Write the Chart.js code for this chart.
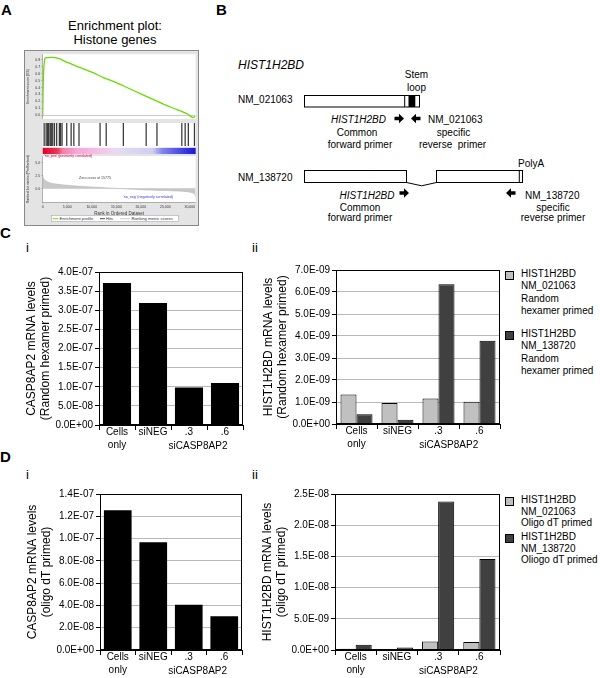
<!DOCTYPE html>
<html>
<head>
<meta charset="utf-8">
<script src="https://cdn.jsdelivr.net/npm/chart.js@4/dist/chart.umd.min.js"></script>
<style>
html, body { margin: 0; padding: 0; background: #fff; }
body { width: 600px; height: 678px; position: relative; overflow: hidden; font-family: "Liberation Sans", Arial, sans-serif; }
canvas, svg, .leg { position: absolute; }
.leg { font-size: 10px; line-height: 12.3px; color: #000; }
.leg .sq { position: absolute; left: -16px; top: 3px; width: 7px; height: 7px; border: 1px solid #000; }
</style>
</head>
<body>
<svg id="fig" width="600" height="678" style="left:0;top:0" font-family="'Liberation Sans', Arial, sans-serif">
  <g font-weight="bold" font-size="15">
    <text x="1" y="15">A</text>
    <text x="216" y="15">B</text>
    <text x="0" y="238">C</text>
    <text x="0" y="462">D</text>
  </g>
  <g font-size="13">
    <text x="26" y="252">i</text>
    <text x="252" y="252">ii</text>
    <text x="26" y="479">i</text>
    <text x="252" y="479">ii</text>
  </g>
  <!-- panel A frame -->
  <g font-size="13" text-anchor="middle">
    <text x="115" y="29.5">Enrichment plot:</text>
    <text x="115" y="43.5">Histone genes</text>
  </g>
  <rect x="24.5" y="50.5" width="174" height="175" fill="#e4e4e4" stroke="#888"/>
  <rect x="51.5" y="215.5" width="127" height="6" fill="#fff" stroke="#999" stroke-width="0.5"/>
  <g font-size="4.2" fill="#333">
    <line x1="52.7" y1="218.7" x2="58.3" y2="218.7" stroke="#66dd00" stroke-width="1"/>
    <text x="59.5" y="220.2">Enrichment profile</text>
    <line x1="100" y1="218.7" x2="105" y2="218.7" stroke="#222" stroke-width="0.8"/>
    <text x="106" y="220.2">Hits</text>
    <line x1="120" y1="218.7" x2="130" y2="218.7" stroke="#bbb" stroke-width="0.8"/>
    <text x="131.5" y="220.2">Ranking metric scores</text>
  </g>
  <!-- panel B diagram -->
  <text x="238" y="68.5" font-size="12" font-style="italic">HIST1H2BD</text>
  <g font-size="10" text-anchor="middle">
    <text x="416.5" y="78">Stem</text>
    <text x="416.5" y="90.5">loop</text>
  </g>
  <text x="238" y="103" font-size="10">NM_021063</text>
  <rect x="304.5" y="95.5" width="115" height="11.5" fill="#fff" stroke="#000"/>
  <line x1="404.7" y1="95.5" x2="404.7" y2="107" stroke="#000"/>
  <rect x="408.5" y="95.5" width="6.8" height="11.5" fill="#000"/>
  <polygon points="394.5,116.8 399,116.8 399,113.8 404,118.5 399,123.2 399,120.2 394.5,120.2" fill="#000"/>
  <polygon points="420.5,116.8 416,116.8 416,113.8 411,118.5 416,123.2 416,120.2 420.5,120.2" fill="#000"/>
  <g font-size="10">
    <text x="386" y="123" text-anchor="end" font-style="italic">HIST1H2BD</text>
    <text x="357" y="135.5" text-anchor="middle">Common</text>
    <text x="360" y="148" text-anchor="middle">forward primer</text>
    <text x="428" y="123">NM_021063</text>
    <text x="453.5" y="135.5" text-anchor="middle">specific</text>
    <text x="452.5" y="148" text-anchor="middle" xml:space="preserve">reverse  primer</text>
  </g>
  <text x="518" y="167" font-size="10">PolyA</text>
  <text x="238" y="181" font-size="10">NM_138720</text>
  <rect x="304.5" y="170.5" width="102" height="12" fill="#fff" stroke="#000"/>
  <polyline points="406.5,182.5 421.7,185.8 436.5,182.5" fill="none" stroke="#000"/>
  <rect x="436.5" y="170.5" width="86" height="12" fill="#fff" stroke="#000"/>
  <line x1="519.3" y1="170.5" x2="519.3" y2="182.5" stroke="#000"/>
  <polygon points="399.5,191.3 404,191.3 404,188.3 409,193 404,197.7 404,194.7 399.5,194.7" fill="#000"/>
  <polygon points="515.5,191.3 511,191.3 511,188.3 506,193 511,197.7 511,194.7 515.5,194.7" fill="#000"/>
  <g font-size="10">
    <text x="394.5" y="198.5" text-anchor="end" font-style="italic">HIST1H2BD</text>
    <text x="360" y="210.5" text-anchor="middle">Common</text>
    <text x="360" y="221" text-anchor="middle">forward primer</text>
    <text x="525" y="198.5">NM_138720</text>
    <text x="553" y="210.5" text-anchor="middle">specific</text>
    <text x="553" y="221" text-anchor="middle">reverse primer</text>
  </g>
</svg>

<canvas id="esChart" width="172" height="71" style="left:25px;top:51px"></canvas>
<canvas id="hitChart" width="172" height="32" style="left:25px;top:122px"></canvas>
<canvas id="metricChart" width="172" height="63" style="left:25px;top:153px"></canvas>

<svg id="notes" width="200" height="230" style="left:0;top:0" font-family="'Liberation Sans', Arial, sans-serif">
  <g font-size="3.6">
    <text x="44" y="156.8" fill="#e0003c">'na_pos' (positively correlated)</text>
    <text x="79" y="179" fill="#444">Zero cross at 15775</text>
    <text x="123" y="197.5" fill="#3333dd">'na_neg' (negatively correlated)</text>
  </g>
</svg>

<canvas id="chartCi" width="225" height="193" style="left:20px;top:264px"></canvas>
<canvas id="chartCii" width="245" height="194" style="left:257px;top:262px"></canvas>
<canvas id="chartDi" width="223" height="196" style="left:21px;top:486px"></canvas>
<canvas id="chartDii" width="246" height="196" style="left:256px;top:486px"></canvas>

<div class="leg" id="legC" style="left:521px;top:0"></div>
<div class="leg" id="legD" style="left:521px;top:0;line-height:11.5px"></div>

<script>
// bar chart data (C = random hexamer primed, D = oligo dT primed)
const categories = [["Cells", "only"], "siNEG", ".3", ".6"];
const groupLabel = "siCASP8AP2";
const casp8ap2Random = [3.71e-7, 3.19e-7, 0.98e-7, 1.10e-7];
const hist021063Random = [1.34e-9, 0.95e-9, 1.16e-9, 1.01e-9];
const hist138720Random = [0.44e-9, 0.19e-9, 6.35e-9, 3.78e-9];
const casp8ap2Oligo = [1.255e-7, 0.967e-7, 0.407e-7, 0.304e-7];
const hist021063Oligo = [0.2e-9, 0.16e-9, 1.37e-9, 1.27e-9];
const hist138720Oligo = [0.85e-9, 0.42e-9, 23.8e-9, 14.6e-9];
const legendRandom = [["HIST1H2BD", "NM_021063", "Random", "hexamer primed"], ["HIST1H2BD", "NM_138720", "Random", "hexamer primed"]];
const legendOligo = [["HIST1H2BD", "NM_021063", "Oligo dT primed"], ["HIST1H2BD", "NM_138720", "Oliogo dT primed"]];

// enrichment plot data (panel A)
const rankMax = 31200;
const esRank = [0, 150, 450, 1000, 2500, 3500, 5000, 7500, 10000, 12500, 15000, 17500, 20000, 22500, 25000, 27500, 29500, 30600, 31100];
const esScore = [0, 0.55, 0.82, 0.83, 0.83, 0.81, 0.76, 0.69, 0.62, 0.54, 0.47, 0.39, 0.31, 0.23, 0.15, 0.08, 0.02, -0.03, -0.01];
const hitRanks = [300, 700, 950, 1200, 1500, 1650, 1850, 2050, 2400, 2850, 3400, 3650, 3950, 4900, 5800, 6350, 7400, 11700, 12950, 16450, 21100, 23300, 28370, 29050, 29700, 30950];
const metricRank = [0, 150, 500, 1000, 2000, 3500, 5000, 7500, 10000, 12500, 15775, 18000, 21000, 24000, 27000, 29500, 30500, 31000, 31200];
const metricScore = [2.7, 2.0, 1.6, 1.3, 1.0, 0.8, 0.65, 0.45, 0.32, 0.18, 0, -0.12, -0.25, -0.35, -0.45, -0.6, -0.8, -1.1, -1.7];
const esTicks = [0, 0.1, 0.2, 0.3, 0.4, 0.5, 0.6, 0.7, 0.8];
const metricTicks = [0, 2.5, 5];
const rankTicks = [0, 5000, 10000, 15000, 20000, 25000, 30000];

const FONT = '"Liberation Sans", Arial, sans-serif';
Chart.defaults.font.family = FONT;
Chart.defaults.color = "#000";

function expLabel(v) {
  const parts = Number(v).toExponential(1).split("e");
  const n = Math.abs(parseInt(parts[1], 10));
  return parts[0] + "E" + (parts[1][0] === "-" ? "-" : "+") + String(n).padStart(2, "0");
}

const frameBox = {
  id: "frameBox",
  afterDatasetsDraw(chart) {
    const a = chart.chartArea, ctx = chart.ctx;
    ctx.save();
    ctx.strokeStyle = "#000";
    ctx.lineWidth = 1;
    ctx.strokeRect(Math.round(a.left) + 0.5, Math.round(a.top) + 0.5, Math.round(a.right - a.left) - 1, Math.round(a.bottom - a.top) - 1);
    ctx.restore();
  }
};

const groupText = {
  id: "groupText",
  afterDraw(chart) {
    const x = chart.scales.x, ctx = chart.ctx;
    ctx.save();
    ctx.font = "10px " + FONT;
    ctx.fillStyle = "#000";
    ctx.textAlign = "center";
    ctx.textBaseline = "middle";
    ctx.fillText(groupLabel, x.getPixelForValue(2.25), x.top + 21);
    ctx.restore();
  }
};

const whiteArea = {
  id: "whiteArea",
  beforeDraw(chart) {
    const a = chart.chartArea, ctx = chart.ctx;
    ctx.save();
    ctx.fillStyle = "#fff";
    ctx.fillRect(a.left, a.top, a.right - a.left, a.bottom - a.top);
    ctx.restore();
  }
};

function barChart(id, datasets, yMax, yStep, title, barPct, catPct) {
  return new Chart(document.getElementById(id), {
    type: "bar",
    data: { labels: categories, datasets: datasets },
    options: {
      responsive: false,
      animation: false,
      layout: { padding: { top: 6, right: 2, left: 0, bottom: 0 } },
      plugins: { legend: { display: false }, tooltip: { enabled: false } },
      datasets: { bar: { barPercentage: barPct, categoryPercentage: catPct } },
      scales: {
        x: {
          grid: { offset: true, drawOnChartArea: false, tickLength: 5, color: "#000" },
          border: { color: "#000" },
          ticks: { font: { size: 10, lineHeight: 1.35 }, padding: -5, maxRotation: 0, autoSkip: false },
          afterFit(s) { s.height = 32; }
        },
        y: {
          min: 0,
          max: yMax,
          ticks: { stepSize: yStep, callback: expLabel, font: { size: 10 }, padding: 2 },
          grid: { color: "#b8b8b8", tickColor: "#000", tickLength: 4 },
          border: { color: "#000" },
          title: { display: true, text: title, font: { size: 12, lineHeight: 1.17 }, padding: { top: 5, bottom: 0 } },
          afterFit(s) { s.width = 79; }
        }
      }
    },
    plugins: [frameBox, groupText]
  });
}

barChart("chartCi", [
  { data: casp8ap2Random, backgroundColor: "#000", borderWidth: 0 }
], 4e-7, 5e-8, ["CASP8AP2 mRNA levels", "(Random hexamer primed)"], 0.78, 1);

barChart("chartCii", [
  { label: legendRandom[0].join(" "), data: hist021063Random, backgroundColor: "#c0c0c0", borderColor: "#000", borderWidth: 1 },
  { label: legendRandom[1].join(" "), data: hist138720Random, backgroundColor: "#404040", borderColor: "#000", borderWidth: 1 }
], 7e-9, 1e-9, ["HIST1H2BD mRNA levels", "(Random hexamer primed)"], 1, 0.78);

barChart("chartDi", [
  { data: casp8ap2Oligo, backgroundColor: "#000", borderWidth: 0 }
], 1.4e-7, 2e-8, ["CASP8AP2 mRNA levels", "(oligo dT primed)"], 0.78, 1);

barChart("chartDii", [
  { label: legendOligo[0].join(" "), data: hist021063Oligo, backgroundColor: "#c0c0c0", borderColor: "#000", borderWidth: 1 },
  { label: legendOligo[1].join(" "), data: hist138720Oligo, backgroundColor: "#404040", borderColor: "#000", borderWidth: 1 }
], 2.5e-8, 5e-9, ["HIST1H2BD mRNA levels", "(oligo dT primed)"], 1, 0.78);

function buildLegend(id, entries, tops, colors) {
  const box = document.getElementById(id);
  entries.forEach(function (lines, i) {
    const item = document.createElement("div");
    item.style.position = "absolute";
    item.style.left = "0px";
    item.style.top = tops[i] + "px";
    item.style.whiteSpace = "nowrap";
    item.innerHTML = '<span class="sq" style="background:' + colors[i] + '"></span>' + lines.join("<br>");
    box.appendChild(item);
  });
}
buildLegend("legC", legendRandom, [268, 328], ["#c0c0c0", "#404040"]);
buildLegend("legD", legendOligo, [494, 531], ["#c0c0c0", "#404040"]);

// panel A: running enrichment score
const smallTick = { size: 3.5 };
new Chart(document.getElementById("esChart"), {
  type: "line",
  data: {
    datasets: [{
      data: esRank.map((r, i) => ({ x: r, y: esScore[i] })),
      borderColor: "#66dd00",
      borderWidth: 1.3,
      pointRadius: 0,
      tension: 0.3
    }]
  },
  options: {
    responsive: false,
    animation: false,
    layout: { padding: { top: 2, right: 1.3, bottom: 0, left: 0 } },
    plugins: { legend: { display: false }, tooltip: { enabled: false } },
    scales: {
      x: { type: "linear", min: 0, max: rankMax, display: false },
      y: {
        min: -0.05,
        max: 0.88,
        afterBuildTicks(s) { s.ticks = esTicks.map(v => ({ value: v })); },
        ticks: { font: smallTick, color: "#333", padding: 1, callback: v => v.toFixed(1) },
        grid: { color: c => (c.tick && c.tick.value === 0 ? "#999" : "rgba(0,0,0,0)"), tickColor: "#777", tickLength: 1.5, lineWidth: 0.5 },
        border: { color: "#777", width: 0.5 },
        title: { display: true, text: "Enrichment score (ES)", font: smallTick, color: "#333", padding: { top: 1, bottom: 0 } },
        afterFit(s) { s.width = 17.7; }
      }
    }
  },
  plugins: [whiteArea]
});

// panel A: hits and colour band
const rankBand = {
  id: "rankBand",
  afterDatasetsDraw(chart) {
    const a = chart.chartArea, ctx = chart.ctx, y = chart.scales.y;
    const top = y.getPixelForValue(0.2), bottom = y.getPixelForValue(0);
    const g = ctx.createLinearGradient(a.left, 0, a.right, 0);
    g.addColorStop(0, "#e0002a");
    g.addColorStop(0.1, "#ec3a5a");
    g.addColorStop(0.13, "#f27ea8");
    g.addColorStop(0.22, "#f6a6d8");
    g.addColorStop(0.45, "#eed2ee");
    g.addColorStop(0.5, "#e2dcf2");
    g.addColorStop(0.72, "#cfcdf2");
    g.addColorStop(0.78, "#8686ee");
    g.addColorStop(0.9, "#4848e6");
    g.addColorStop(1, "#1818dc");
    ctx.save();
    ctx.fillStyle = g;
    ctx.fillRect(a.left, top, a.right - a.left, bottom - top);
    ctx.restore();
  }
};
new Chart(document.getElementById("hitChart"), {
  type: "bar",
  data: {
    datasets: [{
      data: hitRanks.map(r => ({ x: r, y: [0.27, 1] })),
      backgroundColor: "#3a3a3a",
      barThickness: 0.6
    }]
  },
  options: {
    responsive: false,
    animation: false,
    layout: { padding: { top: 1, right: 1.3, bottom: 0, left: 17.7 } },
    plugins: { legend: { display: false }, tooltip: { enabled: false } },
    scales: {
      x: { type: "linear", min: 0, max: rankMax, display: false, offset: false },
      y: { min: 0, max: 1, display: false }
    }
  },
  plugins: [whiteArea, rankBand]
});

// panel A: ranked list metric
new Chart(document.getElementById("metricChart"), {
  type: "line",
  data: {
    datasets: [{
      data: metricRank.map((r, i) => ({ x: r, y: metricScore[i] })),
      borderColor: "#b0b0b0",
      borderWidth: 0.5,
      backgroundColor: "#c8c8c8",
      fill: "origin",
      pointRadius: 0,
      tension: 0.3
    }]
  },
  options: {
    responsive: false,
    animation: false,
    layout: { padding: { top: 0, right: 1.3, bottom: 0, left: 0 } },
    plugins: { legend: { display: false }, tooltip: { enabled: false } },
    scales: {
      x: {
        type: "linear",
        min: 0,
        max: rankMax,
        afterBuildTicks(s) { s.ticks = rankTicks.map(v => ({ value: v })); },
        ticks: { font: smallTick, color: "#333", padding: 1, maxRotation: 0, callback: v => v.toLocaleString("en-US") },
        grid: { drawOnChartArea: false, tickLength: 1.5, color: "#777", lineWidth: 0.5 },
        border: { color: "#777", width: 0.5 },
        title: { display: true, text: "Rank in Ordered Dataset", font: { size: 4.5 }, color: "#333", padding: 0 },
        afterFit(s) { s.height = 14; }
      },
      y: {
        min: -2.6,
        max: 6.3,
        afterBuildTicks(s) { s.ticks = metricTicks.map(v => ({ value: v })); },
        ticks: { font: smallTick, color: "#333", padding: 1, callback: v => v.toFixed(1) },
        grid: { color: c => (c.tick && c.tick.value === 0 ? "#bbb" : "rgba(0,0,0,0)"), tickColor: "#777", tickLength: 1.5, lineWidth: 0.5 },
        border: { color: "#777", width: 0.5 },
        title: { display: true, text: "Ranked list metric (PreRanked)", font: smallTick, color: "#333", padding: { top: 1, bottom: 0 } },
        afterFit(s) { s.width = 17.7; }
      }
    }
  },
  plugins: [whiteArea]
});
</script>
</body>
</html>
